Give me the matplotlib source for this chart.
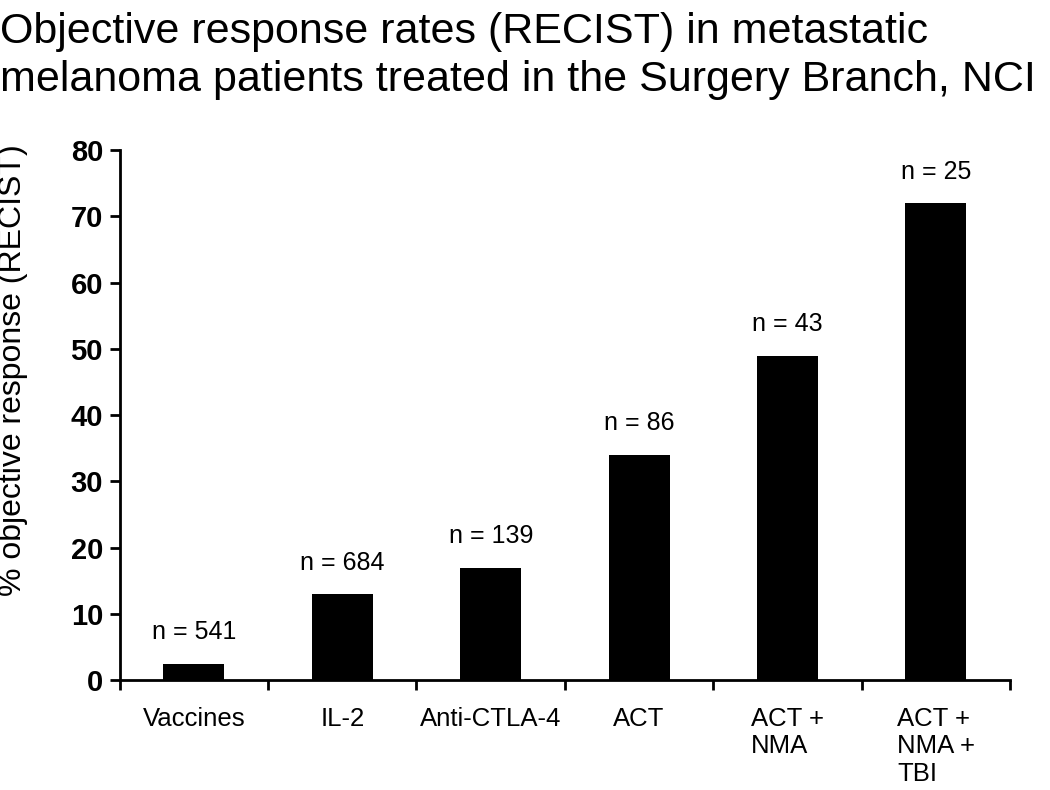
import matplotlib.pyplot as plt
import numpy as np

plt.rcParams['font.family'] = ['Liberation Sans', 'DejaVu Sans']

treatments = ['Vaccines', 'IL-2', 'Anti-CTLA-4', 'ACT', 'ACT +\nNMA', 'ACT +\nNMA +\nTBI']
response = [2.5, 13, 17, 34, 49, 72]
n_patients = [541, 684, 139, 86, 43, 25]

fig = plt.figure(figsize=(10.5, 7.9), dpi=100)
ax = fig.add_axes([0.114, 0.139, 0.848, 0.671])

x = np.arange(len(treatments))
ax.bar(x, response, width=0.41, color='black')

for xi, v, n in zip(x, response, n_patients):
    ax.annotate(f'n = {n}', (xi, v), xytext=(0, 14), textcoords='offset points',
                ha='center', va='bottom', fontsize=18)

ax.set_xlim(-0.5, len(treatments) - 0.5)
ax.set_ylim(0, 80)
ax.set_yticks(range(0, 81, 10))
ax.set_yticklabels([str(t) for t in range(0, 81, 10)], fontsize=21, fontweight='bold')
ax.set_xticks(np.arange(-0.5, len(treatments), 1))
ax.set_xticklabels([])
ax.set_xticks(x, minor=True)
ax.set_xticklabels(treatments, minor=True, fontsize=18.5, va='top', ha='center',
                   multialignment='left', linespacing=1.2)
ax.tick_params(axis='x', which='minor', length=0, pad=19)
ax.tick_params(axis='x', which='major', direction='out', length=7, width=2)
ax.tick_params(axis='y', direction='out', length=7, width=2, pad=5)

for s in ['top', 'right']:
    ax.spines[s].set_visible(False)
for s in ['left', 'bottom']:
    ax.spines[s].set_linewidth(2)

ax.set_ylabel('% objective response (RECIST)', fontsize=23)
ax.yaxis.set_label_coords(-0.103, 0.585)

fig.text(0.0, 0.985, 'Objective response rates (RECIST) in metastatic\n'
         'melanoma patients treated in the Surgery Branch, NCI',
         fontsize=31, ha='left', va='top', linespacing=1.25)

fig.savefig('out.png', dpi=100)
